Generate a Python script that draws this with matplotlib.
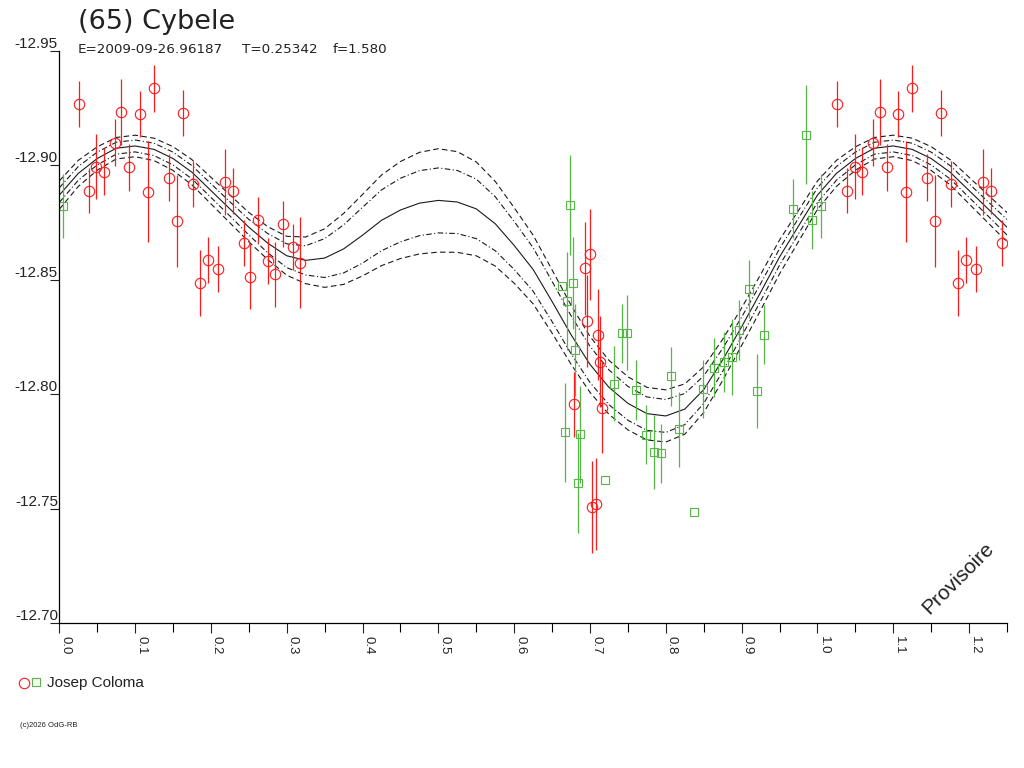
import numpy as np
import matplotlib
matplotlib.use("Agg")
import matplotlib.pyplot as plt
from matplotlib.lines import Line2D
from matplotlib.ticker import MultipleLocator, FixedLocator

plt.rcParams['font.family'] = ['Liberation Sans', 'DejaVu Sans']
plt.rcParams['axes.unicode_minus'] = False

# fitted light curve, phase 0..1 in steps of 0.025
fit_phase = [i * 0.025 for i in range(41)]
fit_mag = [-12.887, -12.8965, -12.903, -12.9075, -12.9085, -12.907, -12.903, -12.897,
           -12.889, -12.881, -12.873, -12.866, -12.8605, -12.8585, -12.8595, -12.8635,
           -12.8695, -12.876, -12.8805, -12.8835, -12.8847, -12.884, -12.881, -12.8745,
           -12.865, -12.8545, -12.8405, -12.826, -12.813, -12.803, -12.796, -12.7915,
           -12.7905, -12.7935, -12.802, -12.815, -12.8295, -12.8445, -12.860, -12.8735,
           -12.887]
# half widths of the inner (dash-dot) and outer (dashed) bands
band_in = [0.0032, 0.0030, 0.0028, 0.0026, 0.0026, 0.0027, 0.0028, 0.0029, 0.0030, 0.0031,
           0.0034, 0.0042, 0.0052, 0.0064, 0.0085, 0.0105, 0.0122, 0.0133, 0.0139, 0.0142,
           0.0142, 0.0138, 0.0130, 0.0118, 0.0105, 0.0095, 0.0088, 0.0083, 0.0079, 0.0076,
           0.0074, 0.0073, 0.0072, 0.0068, 0.0060, 0.0050, 0.0042, 0.0038, 0.0036, 0.0034,
           0.0032]
band_out = [0.0062, 0.0057, 0.0051, 0.0047, 0.0047, 0.0049, 0.0052, 0.0055, 0.0058, 0.0061,
            0.0064, 0.0072, 0.0085, 0.0102, 0.0128, 0.0155, 0.0178, 0.0198, 0.0212, 0.0222,
            0.0226, 0.0220, 0.0205, 0.0185, 0.0165, 0.0150, 0.0138, 0.0129, 0.0122, 0.0118,
            0.0116, 0.0115, 0.0114, 0.0110, 0.0100, 0.0090, 0.0082, 0.0078, 0.0074, 0.0068,
            0.0062]

# observations, session 1 (red circles)
red_phase = [0.026, 0.039, 0.049, 0.059, 0.073, 0.082, 0.092, 0.106, 0.117, 0.125,
             0.145, 0.155, 0.163, 0.176, 0.186, 0.196, 0.209, 0.219, 0.229, 0.243,
             0.252, 0.262, 0.275, 0.285, 0.295, 0.308, 0.317,
             0.6786, 0.6935, 0.6966, 0.7001, 0.7032, 0.7077, 0.7103, 0.7133, 0.7164]
red_mag = [-12.9267, -12.8890, -12.8994, -12.8972, -12.9099, -12.9233, -12.8992, -12.9223,
           -12.8885, -12.9337, -12.8946, -12.8756, -12.9230, -12.8920, -12.8485, -12.8587,
           -12.8546, -12.8927, -12.8888, -12.8661, -12.8514, -12.8761, -12.8581, -12.8525,
           -12.8744, -12.8645, -12.8575,
           -12.7956, -12.8550, -12.8320, -12.8611, -12.7508, -12.7519, -12.8260, -12.8142,
           -12.7941]
red_err = [0.0100, 0.0100, 0.0142, 0.0103, 0.0103, 0.0144, 0.0103, 0.0100, 0.0221, 0.0103,
           0.0103, 0.0200, 0.0100, 0.0100, 0.0144, 0.0100, 0.0100, 0.0144, 0.0100, 0.0100,
           0.0142, 0.0100, 0.0100, 0.0142, 0.0100, 0.0100, 0.0200,
           0.0142, 0.0204, 0.0200, 0.0200, 0.0200, 0.0200, 0.0200, 0.0200, 0.0200]

# observations, session 2 (green squares)
green_phase = [0.0045, 0.6636, 0.6671, 0.6702, 0.6737, 0.6773, 0.6800, 0.6839, 0.6866,
               0.7203, 0.7314, 0.7418, 0.7494, 0.7612, 0.7744, 0.7846, 0.7942, 0.8074,
               0.8175, 0.8369, 0.8496, 0.8637, 0.8773, 0.8875, 0.8967, 0.9103, 0.9200,
               0.9301, 0.9680, 0.9850, 0.9934]
green_mag = [-12.8823, -12.8474, -12.7833, -12.8406, -12.8828, -12.8487, -12.8193, -12.7613,
             -12.7825, -12.7626, -12.8045, -12.8266, -12.8269, -12.8018, -12.7823, -12.7749,
             -12.7742, -12.8078, -12.7847, -12.7484, -12.8021, -12.8116, -12.8141, -12.8163,
             -12.8281, -12.8458, -12.8014, -12.8260, -12.8811, -12.9134, -12.8760]
green_err = [0.0140, 0.0000, 0.0215, 0.0215, 0.0219, 0.0200, 0.0200, 0.0218, 0.0213,
             0.0000, 0.0164, 0.0130, 0.0164, 0.0130, 0.0130, 0.0162, 0.0128, 0.0128,
             0.0164, 0.0000, 0.0127, 0.0129, 0.0130, 0.0166, 0.0130, 0.0127, 0.0162,
             0.0128, 0.0130, 0.0216, 0.0126]

y_ticks = [-12.95, -12.90, -12.85, -12.80, -12.75, -12.70]
x_ticks = [0.0, 0.1, 0.2, 0.3, 0.4, 0.5, 0.6, 0.7, 0.8, 0.9, 1.0, 1.1, 1.2]
x_max = 1.25


def extend(ph, *cols):
    # repeat the start of the period after phase 1, up to the end of the axis
    ph = np.asarray(ph)
    keep = ph + 1 <= x_max
    out = [np.concatenate([ph, ph[keep] + 1])]
    for c in cols:
        c = np.asarray(c)
        out.append(np.concatenate([c, c[keep]]))
    return out


fig = plt.figure(figsize=(10.24, 7.68), dpi=100)
ax = fig.add_axes([59.3 / 1024, 1 - 623 / 768, (1007 - 59.3) / 1024, (623 - 51) / 768])

cp = np.asarray(fit_phase)
fx = np.concatenate([cp, cp[1:] + 1])
fm = np.concatenate([fit_mag, fit_mag[1:]])
bi = np.concatenate([band_in, band_in[1:]])
bo = np.concatenate([band_out, band_out[1:]])
curve_col = '#1a1a1a'
ax.plot(fx, fm, color=curve_col, lw=0.8)
for s in (-1, 1):
    ax.plot(fx, fm + s * bi, color=curve_col, lw=0.8, dashes=(5, 2.2, 1, 2.2))
    ax.plot(fx, fm + s * bo, color=curve_col, lw=0.8, dashes=(5, 3))

red = '#ff1a1a'
green = '#55b845'
rx, rm, re = extend(red_phase, red_mag, red_err)
gx, gm, ge = extend(green_phase, green_mag, green_err)
ax.vlines(gx, gm - ge, gm + ge, color=green, lw=0.9)
ax.plot(gx, gm, 's', ms=5.5, mfc='none', mec=green, mew=0.8)
ax.vlines(rx, rm - re, rm + re, color=red, lw=0.9)
ax.plot(rx, rm, 'o', ms=7.5, mfc='none', mec=red, mew=0.8)

ax.set_xlim(0, x_max)
ax.set_ylim(-12.70, -12.95)
for sp in ('top', 'right'):
    ax.spines[sp].set_visible(False)
for sp in ('left', 'bottom'):
    ax.spines[sp].set_linewidth(0.9)

ax.xaxis.set_major_locator(FixedLocator(x_ticks))
ax.xaxis.set_minor_locator(MultipleLocator(0.05))
ax.set_xticklabels(['%.1f' % v for v in x_ticks])
ax.yaxis.set_major_locator(FixedLocator(y_ticks))
ax.set_yticklabels(['%.2f' % v for v in y_ticks])
ax.tick_params(axis='x', which='major', direction='out', length=7.5, width=0.8,
               labelsize=9.5, pad=1.5, colors='#222222')
ax.tick_params(axis='x', which='minor', direction='out', length=6.3, width=0.8)
ax.tick_params(axis='y', which='major', direction='out', length=6.5, width=0.8,
               labelsize=11, pad=-5.5, colors='#222222')
for lab in ax.get_xticklabels():
    lab.set_rotation(-90)
    lab.set_ha('left')
    lab.set_va('top')
for lab in ax.get_yticklabels():
    lab.set_va('bottom')

fig.text(78 / 1024, 1 - 29 / 768, '(65) Cybele', fontsize=19.5, va='baseline',
         color='#222222', family='DejaVu Sans')
head = dict(fontsize=9.7, va='baseline', color='#222222', family='DejaVu Sans')
fig.text(78 / 1024, 1 - 53 / 768, 'E=2009-09-26.96187', **head)
fig.text(242 / 1024, 1 - 53 / 768, 'T=0.25342', **head)
fig.text(333 / 1024, 1 - 53 / 768, 'f=1.580', **head)

fig.add_artist(Line2D([24 / 1024], [1 - 683 / 768], transform=fig.transFigure, marker='o',
                      ms=7.5, mfc='none', mec=red, mew=0.8, ls='none'))
fig.add_artist(Line2D([36 / 1024], [1 - 682 / 768], transform=fig.transFigure, marker='s',
                      ms=5.5, mfc='none', mec=green, mew=0.8, ls='none'))
fig.text(47 / 1024, 1 - 683 / 768, 'Josep Coloma', fontsize=11, va='center', color='#222222')
fig.text(20 / 1024, 1 - 727 / 768, '(c)2026 OdG-RB', fontsize=5.5, va='baseline', color='#222222')
fig.text(958 / 1024, 1 - 578 / 768, 'Provisoire', fontsize=15, rotation=45,
         ha='center', va='center', color='#222222')

fig.savefig('out.png', dpi=100)
